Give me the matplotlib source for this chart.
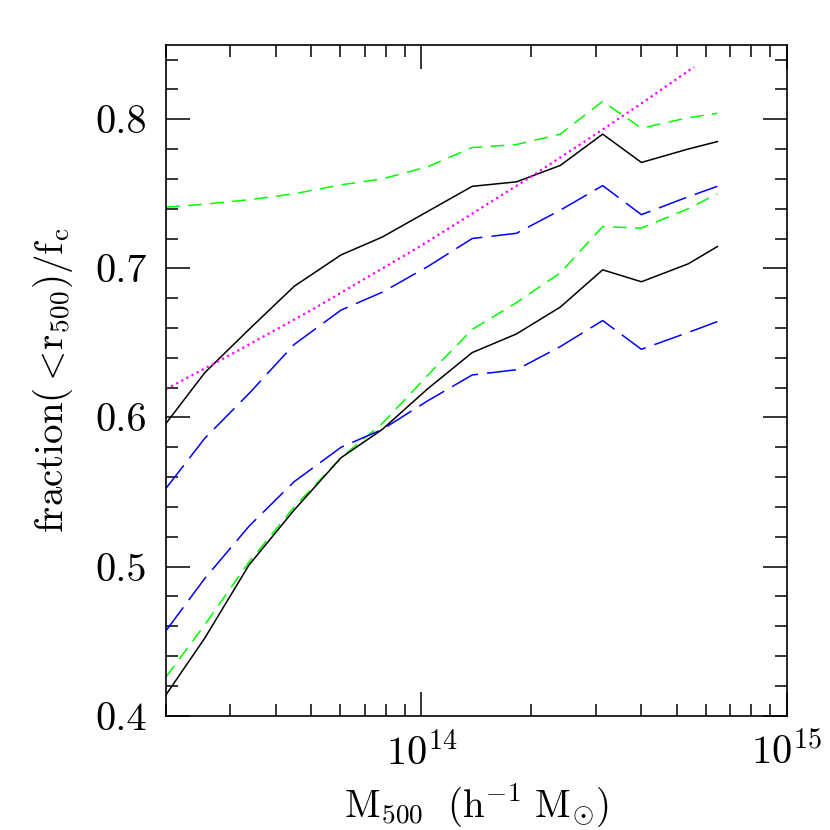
import numpy as np
import matplotlib
matplotlib.use("Agg")
import matplotlib.pyplot as plt
from matplotlib.ticker import LogLocator, NullFormatter, MultipleLocator, FormatStrFormatter

plt.rcParams['font.family'] = ['cmr10', 'DejaVu Serif']
plt.rcParams['mathtext.fontset'] = 'cm'
plt.rcParams['axes.formatter.use_mathtext'] = True
plt.rcParams['axes.unicode_minus'] = False

# masses (log10 M500) of the bins
logM = [13.301, 13.407, 13.528, 13.652, 13.780, 13.893, 14.016, 14.139,
        14.260, 14.380, 14.496, 14.602, 14.730, 14.810]
mass = [10 ** v for v in logM]

green_upper = [0.741, 0.743, 0.746, 0.750, 0.756, 0.760, 0.768, 0.781,
               0.783, 0.790, 0.812, 0.794, 0.801, 0.804]
black_upper = [0.596, 0.630, 0.659, 0.688, 0.709, 0.721, 0.738, 0.755,
               0.758, 0.769, 0.790, 0.771, 0.780, 0.785]
blue_upper = [0.5525, 0.586, 0.616, 0.649, 0.672, 0.684, 0.701, 0.720,
              0.7235, 0.739, 0.7555, 0.736, 0.748, 0.755]
green_lower = [0.426, 0.461, 0.503, 0.540, 0.573, 0.596, 0.628, 0.659,
               0.677, 0.697, 0.728, 0.727, 0.740, 0.750]
black_lower = [0.414, 0.452, 0.501, 0.538, 0.573, 0.592, 0.619, 0.6435,
               0.656, 0.674, 0.699, 0.691, 0.703, 0.7146]
blue_lower = [0.457, 0.492, 0.527, 0.557, 0.580, 0.592, 0.611, 0.6285,
              0.632, 0.6475, 0.665, 0.6457, 0.657, 0.6643]

# dotted magenta reference relation
mag_mass = [2.0e13, 3.0e13, 5.0e13, 1.0e14, 2.0e14, 3.0e14, 4.0e14, 5.57e14]
mag_frac = [0.619, 0.642, 0.672, 0.7153, 0.7616, 0.790, 0.8106, 0.835]

fig = plt.figure(figsize=(8.3, 8.3), dpi=100)
ax = fig.add_axes([0.2, 0.1377, 0.748, 0.8085])

lw = 1.1
short_dash = (0, (9, 5.5))
long_dash = (0, (19, 6))

ax.plot(mass, green_upper, color='#00ff00', lw=lw, linestyle=short_dash)
ax.plot(mass, green_lower, color='#00ff00', lw=lw, linestyle=short_dash)
ax.plot(mass, black_upper, color='black', lw=lw, linestyle='-')
ax.plot(mass, black_lower, color='black', lw=lw, linestyle='-')
ax.plot(mass, blue_upper, color='#0000ff', lw=lw, linestyle=long_dash)
ax.plot(mass, blue_lower, color='#0000ff', lw=lw, linestyle=long_dash)
ax.plot(mag_mass, mag_frac, color='#ff00ff', lw=1.6, linestyle=(0, (1, 1.6)))

ax.set_xscale('log')
ax.set_xlim(2e13, 1e15)
ax.set_ylim(0.4, 0.85)

ax.xaxis.set_major_locator(LogLocator(base=10))
ax.xaxis.set_minor_locator(LogLocator(base=10, subs=np.arange(2, 10)))
ax.xaxis.set_minor_formatter(NullFormatter())
ax.yaxis.set_major_locator(MultipleLocator(0.1))
ax.yaxis.set_minor_locator(MultipleLocator(0.02))
ax.yaxis.set_major_formatter(FormatStrFormatter('%.1f'))

ax.tick_params(which='both', direction='in', top=True, right=True,
               width=1.1, labelsize=29)
ax.tick_params(which='major', length=17)
ax.tick_params(which='minor', length=8.5)
ax.tick_params(axis='y', which='major', pad=14)
ax.tick_params(axis='x', which='major', pad=12)
for s in ax.spines.values():
    s.set_linewidth(1.2)

ax.set_xlabel(r'$\mathrm{M_{500}\ \ (h^{-1}\ M_{\odot})}$', fontsize=28, labelpad=6)
ax.set_ylabel(r'$\mathrm{fraction(<\!r_{500})/f_c}$', fontsize=28, labelpad=14)

fig.savefig('out.png', dpi=100)
